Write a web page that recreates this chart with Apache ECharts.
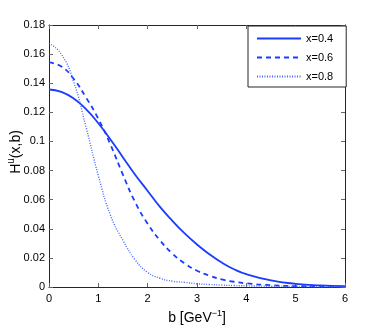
<!DOCTYPE html>
<html>
<head>
<meta charset="utf-8">
<script src="https://cdn.jsdelivr.net/npm/echarts@6/dist/echarts.min.js"></script>
<style>
  html, body { margin: 0; padding: 0; background: #fff; }
  #chart { width: 382px; height: 327px; }
</style>
</head>
<body>
<div id="chart"></div>
<script>
// b values (GeV^-1)
var bVals = [0, 0.25, 0.5, 0.75, 1, 1.25, 1.5, 1.75, 2, 2.25, 2.5, 2.75, 3, 3.25, 3.5, 3.75, 4, 4.5, 5, 5.5, 6];
var hX04 = [0.1357, 0.1341, 0.1295, 0.1222, 0.1125, 0.1012, 0.0890, 0.0770, 0.0660, 0.0550, 0.0455, 0.0368, 0.0292, 0.0225, 0.0168, 0.0122, 0.0088, 0.0045, 0.0022, 0.0011, 0.0006];
var hX06 = [0.1543, 0.1515, 0.1430, 0.1302, 0.1155, 0.0975, 0.0770, 0.0580, 0.0435, 0.0320, 0.0230, 0.0162, 0.0112, 0.0078, 0.0052, 0.0036, 0.0025, 0.0012, 0.0006, 0.0003, 0.0001];
var hX08 = [0.1674, 0.1600, 0.1410, 0.1100, 0.0765, 0.0490, 0.0320, 0.0185, 0.0100, 0.0060, 0.0040, 0.0032, 0.0022, 0.0017, 0.0013, 0.0010, 0.0008, 0.0005, 0.0003, 0.0002, 0.0001];
var seriesNames = ['x=0.4', 'x=0.6', 'x=0.8'];

function pairs(ys) {
  var out = [];
  for (var i = 0; i < bVals.length; i++) {
    out.push([bVals[i], ys[i]]);
  }
  return out;
}

var font = 'Liberation Sans, Arial, sans-serif';
var frame = '#262626';
var blue = '#1a3cff';

var chart = echarts.init(document.getElementById('chart'));

var axisCommon = {
  axisLine: { show: true, onZero: false, lineStyle: { color: frame, width: 1 } },
  axisTick: { show: true, inside: true, length: 4, lineStyle: { color: '#666' } },
  splitLine: { show: false }
};

var option = {
  animation: false,
  backgroundColor: '#fff',
  grid: { left: 49, right: 37, top: 25, bottom: 40 },
  legend: {
    data: seriesNames,
    orient: 'vertical',
    left: 248,
    top: 26,
    padding: [7, 13, 5, 8],
    itemWidth: 44,
    itemHeight: 12,
    itemGap: 8,
    itemStyle: { opacity: 0 },
    backgroundColor: '#fff',
    borderColor: frame,
    borderWidth: 1,
    textStyle: { fontFamily: font, fontSize: 11, color: '#000' }
  },
  xAxis: [
    Object.assign({
      type: 'value', min: 0, max: 6, interval: 1, position: 'bottom',
      axisLabel: { fontFamily: font, fontSize: 11, color: '#000', margin: 6 }
    }, axisCommon),
    Object.assign({
      type: 'value', min: 0, max: 6, interval: 1, position: 'top',
      axisLabel: { show: false }
    }, axisCommon)
  ],
  yAxis: [
    Object.assign({
      type: 'value', min: 0, max: 0.18, interval: 0.02, position: 'left',
      axisLabel: { fontFamily: font, fontSize: 11, color: '#000', margin: 4 }
    }, axisCommon),
    Object.assign({
      type: 'value', min: 0, max: 0.18, interval: 0.02, position: 'right',
      axisLabel: { show: false }
    }, axisCommon)
  ],
  graphic: [
    {
      type: 'text', x: 197, y: 318,
      style: {
        text: 'b [GeV{s|−1}]',
        font: '14px ' + font,
        fill: '#000',
        align: 'center', verticalAlign: 'middle',
        rich: { s: { fontSize: 9, fontFamily: font, fill: '#000', padding: [0, 0, 8, 0] } }
      }
    },
    {
      type: 'text', x: 16, y: 152, rotation: Math.PI / 2,
      style: {
        text: 'H{s|u}(x,b)',
        font: '14px ' + font,
        fill: '#000',
        align: 'center', verticalAlign: 'middle',
        rich: { s: { fontSize: 10, fontFamily: font, fill: '#000', padding: [0, 0, 10, 0] } }
      }
    }
  ],
  series: [
    {
      name: seriesNames[0], type: 'line', data: pairs(hX04),
      smooth: true, symbol: 'none',
      lineStyle: { color: blue, width: 1.8, type: 'solid' },
      itemStyle: { color: blue }
    },
    {
      name: seriesNames[1], type: 'line', data: pairs(hX06),
      smooth: true, symbol: 'none',
      lineStyle: { color: blue, width: 1.8, type: [5, 4] },
      itemStyle: { color: blue }
    },
    {
      name: seriesNames[2], type: 'line', data: pairs(hX08),
      smooth: true, symbol: 'none',
      lineStyle: { color: '#4466ff', width: 1.4, type: [1, 1.5] },
      itemStyle: { color: '#4466ff' }
    }
  ]
};

chart.setOption(option);
</script>
</body>
</html>
